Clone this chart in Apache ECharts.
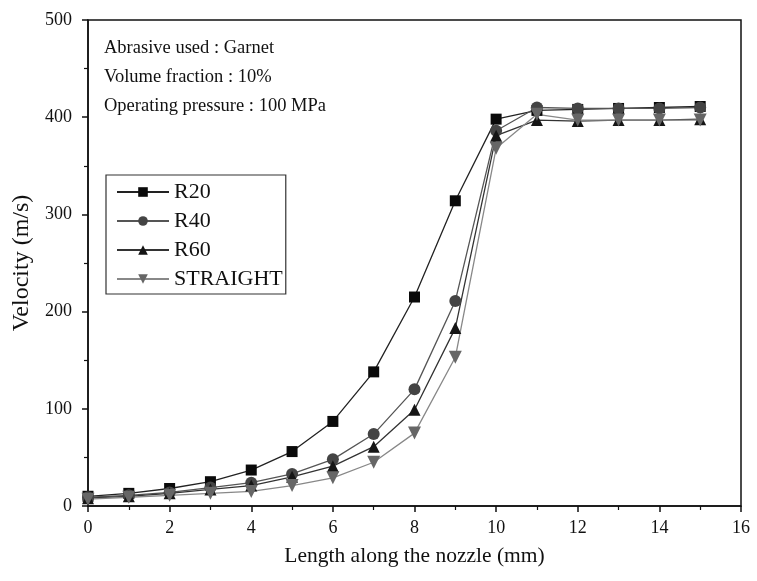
<!DOCTYPE html>
<html>
<head>
    <meta charset="utf-8">
    <title>Velocity along nozzle</title>
    <script src="https://cdn.jsdelivr.net/npm/echarts@6/dist/echarts.min.js"></script>
    <style>
        html, body { margin: 0; padding: 0; background: #fff; }
        #main { width: 757px; height: 581px; }
    </style>
</head>
<body>
<div id="main"></div>
<script type="text/javascript">
    // x positions (mm)
    var lengths = [0, 1, 2, 3, 4, 5, 6, 7, 8, 9, 10, 11, 12, 13, 14, 15];
    // velocities (m/s)
    var r20 = [10, 13, 18, 25, 37, 56, 87, 138, 215, 314, 398, 407, 408, 409, 410, 411];
    var r40 = [9, 11, 14, 19, 24, 33, 48, 74, 120, 211, 386, 410, 409, 409, 409, 410];
    var r60 = [8, 10, 13, 17, 21, 30, 41, 61, 99, 183, 381, 397, 396, 397, 397, 398];
    var straight = [7, 9, 11, 13, 15, 21, 29, 45, 75, 153, 368, 403, 397, 397, 397, 397];
    var notes = ['Abrasive used : Garnet', 'Volume fraction : 10%', 'Operating pressure : 100 MPa'];

    var font = '"Liberation Serif", "DejaVu Serif", serif';

    function pairs(ys) {
        return lengths.map(function (x, i) { return [x, ys[i]]; });
    }

    function makeSeries(name, ys, symbol, size, color, lineColor) {
        return {
            name: name,
            type: 'line',
            data: pairs(ys),
            symbol: symbol,
            symbolSize: size,
            showAllSymbol: true,
            itemStyle: { color: color },
            lineStyle: { color: lineColor, width: 1.3 },
            emphasis: { disabled: true }
        };
    }

    var myChart = echarts.init(document.getElementById('main'));
    myChart.setOption({
        animation: false,
        textStyle: { fontFamily: font },
        grid: {
            left: 88, right: 16, top: 20, bottom: 75,
            show: true, borderColor: '#111', borderWidth: 1.5
        },
        legend: {
            orient: 'vertical',
            left: 106, top: 175,
            padding: [6, 3, 4, 10],
            itemGap: 7,
            itemWidth: 52, itemHeight: 12,
            borderColor: '#333', borderWidth: 1.2,
            textStyle: { fontFamily: font, fontSize: 22, color: '#111' },
            data: ['R20', 'R40', 'R60', 'STRAIGHT']
        },
        graphic: notes.map(function (t, i) {
            return {
                type: 'text',
                left: 104, top: 39 + i * 29,
                style: { text: t, font: '18.5px ' + font, fill: '#111' }
            };
        }),
        xAxis: {
            type: 'value',
            min: 0, max: 16, interval: 2,
            name: 'Length along the nozzle (mm)',
            nameLocation: 'middle', nameGap: 39,
            nameTextStyle: { fontFamily: font, fontSize: 21.5, color: '#111' },
            axisLine: { lineStyle: { color: '#111', width: 1.5 } },
            axisTick: { length: 6, lineStyle: { color: '#111', width: 1.5 } },
            minorTick: { show: true, splitNumber: 2, length: 4, lineStyle: { color: '#111', width: 1.2 } },
            axisLabel: { fontFamily: font, fontSize: 18, color: '#111', margin: 13 },
            splitLine: { show: false }
        },
        yAxis: {
            type: 'value',
            min: 0, max: 500, interval: 100,
            name: 'Velocity (m/s)',
            nameLocation: 'middle', nameGap: 54,
            nameTextStyle: { fontFamily: font, fontSize: 24, color: '#111' },
            axisLine: { show: true, lineStyle: { color: '#111', width: 1.5 } },
            axisTick: { show: true, length: 6, lineStyle: { color: '#111', width: 1.5 } },
            minorTick: { show: true, splitNumber: 2, length: 4, lineStyle: { color: '#111', width: 1.2 } },
            axisLabel: { fontFamily: font, fontSize: 18, color: '#111', margin: 16 },
            splitLine: { show: false }
        },
        series: [
            makeSeries('R20', r20, 'rect', 11, '#0a0a0a', '#222'),
            makeSeries('R40', r40, 'circle', 12, '#444', '#555'),
            makeSeries('R60', r60, 'triangle', 12, '#151515', '#333'),
            makeSeries('STRAIGHT', straight, 'path://M0,0 L10,0 L5,9 Z', 13, '#666', '#888')
        ]
    });
</script>
</body>
</html>
